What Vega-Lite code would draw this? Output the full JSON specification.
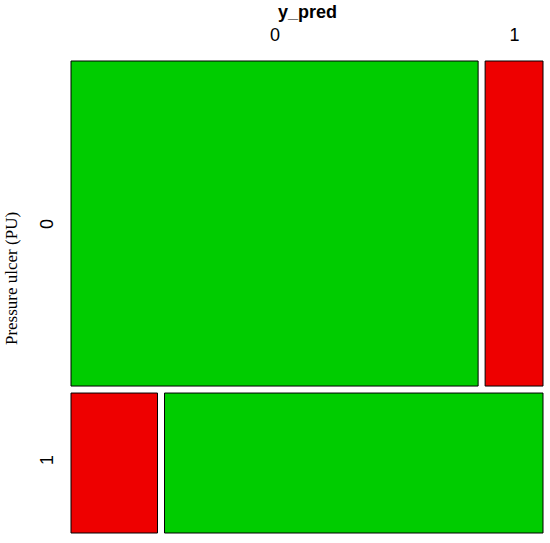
{
  "$schema": "https://vega.github.io/schema/vega-lite/v6.json",
  "width": 472,
  "height": 472,
  "autosize": {"type": "none"},
  "padding": {"left": 71, "top": 61, "right": 7, "bottom": 10},
  "background": "white",
  "config": {"view": {"stroke": null}},
  "data": {
    "values": [
      {"pu": "0", "pred": "0", "n": 612},
      {"pu": "0", "pred": "1", "n": 87},
      {"pu": "1", "pred": "0", "n": 56},
      {"pu": "1", "pred": "1", "n": 245}
    ]
  },
  "transform": [
    {"joinaggregate": [{"op": "sum", "field": "n", "as": "total"}]},
    {"joinaggregate": [{"op": "sum", "field": "n", "as": "rowN"}], "groupby": ["pu"]},
    {"stack": "n", "groupby": ["pu"], "sort": [{"field": "pred", "order": "ascending"}], "offset": "normalize", "as": ["cx0", "cx1"]},
    {"calculate": "datum.cx0 + (datum.pred == '1' ? 0.015054 : 0)", "as": "x0"},
    {"calculate": "datum.cx1 + (datum.pred == '1' ? 0.015054 : 0)", "as": "x1"},
    {"calculate": "datum.rowN / datum.total", "as": "rowFrac"},
    {"calculate": "datum.pu == '0' ? 0 : 1 - datum.rowFrac + 0.015054", "as": "y0"},
    {"calculate": "datum.pu == '0' ? datum.rowFrac : 1.015054", "as": "y1"},
    {"calculate": "datum.pu == datum.pred ? 'correct' : 'wrong'", "as": "match"}
  ],
  "mark": {"type": "rect", "stroke": "black", "strokeWidth": 1},
  "encoding": {
    "x": {
      "field": "x0", "type": "quantitative",
      "scale": {"domain": [0, 1.015054], "nice": false, "zero": false},
      "axis": {
        "orient": "top", "title": "y_pred", "values": [0.4376, 0.9527],
        "labelExpr": "datum.value < 0.7 ? '0' : '1'",
        "domain": false, "ticks": false, "grid": false,
        "labelFont": "Liberation Sans", "labelFontSize": 18, "labelColor": "black",
        "labelPadding": 17,
        "titleFont": "Liberation Sans", "titleFontSize": 18, "titleFontWeight": "bold", "titleColor": "black",
        "titlePadding": 5
      }
    },
    "x2": {"field": "x1"},
    "y": {
      "field": "y0", "type": "quantitative",
      "scale": {"domain": [0, 1.015054], "nice": false, "zero": false, "reverse": true},
      "axis": {
        "title": "Pressure ulcer (PU)", "values": [0.3495, 0.857],
        "labelExpr": "datum.value < 0.6 ? '0' : '1'",
        "domain": false, "ticks": false, "grid": false,
        "labelAngle": -90, "labelAlign": "center", "labelBaseline": "bottom",
        "labelFont": "Liberation Sans", "labelFontSize": 18, "labelColor": "black",
        "labelPadding": 15,
        "titleFont": "Liberation Serif", "titleFontSize": 17, "titleFontWeight": "normal", "titleColor": "black",
        "titlePadding": 18, "titleY": 217
      }
    },
    "y2": {"field": "y1"},
    "fill": {
      "field": "match", "type": "nominal",
      "scale": {"domain": ["correct", "wrong"], "range": ["#00CC00", "#EE0000"]},
      "legend": null
    }
  }
}
